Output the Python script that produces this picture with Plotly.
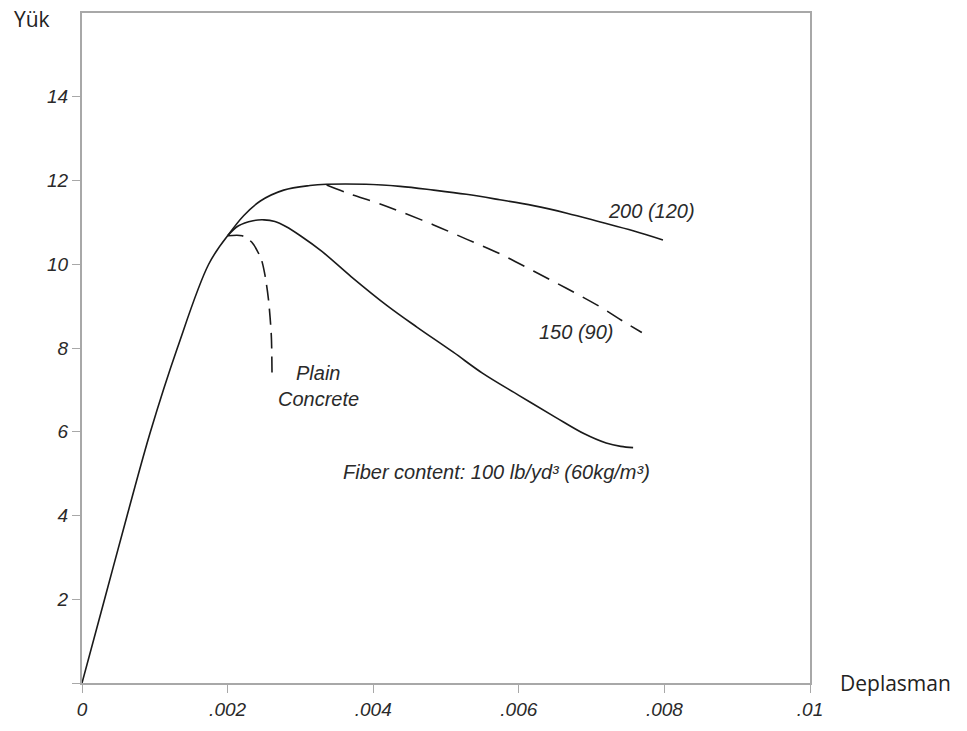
import plotly.graph_objects as go

# Shared rising branch
rise_x = [0, 0.00031, 0.00062, 0.00094, 0.00131, 0.00174, 0.0020]
rise_y = [0, 2.0, 4.0, 6.0, 8.0, 10.0, 10.68]

# 200 (120) fibre curve
f200_x = [0.0020, 0.00222, 0.00245, 0.00277, 0.00313, 0.00336, 0.0039, 0.00437,
          0.00483, 0.00528, 0.00574, 0.0062, 0.00666, 0.00712, 0.00757, 0.00798]
f200_y = [10.68, 11.16, 11.51, 11.77, 11.88, 11.91, 11.91, 11.86,
          11.77, 11.67, 11.54, 11.40, 11.22, 11.01, 10.80, 10.58]

# 150 (90) fibre curve (dashed)
f150_x = [0.00336, 0.00368, 0.00403, 0.00437, 0.00483, 0.00528, 0.00574, 0.0062,
          0.00666, 0.00712, 0.00744, 0.00769]
f150_y = [11.89, 11.68, 11.48, 11.26, 10.94, 10.60, 10.25, 9.84,
          9.42, 8.98, 8.63, 8.37]

# 100 lb/yd3 fibre curve
f100_x = [0.0020, 0.00215, 0.00235, 0.0025, 0.00265, 0.0028, 0.0030, 0.0033,
          0.0037, 0.0042, 0.0046, 0.0051, 0.0055, 0.0060, 0.0065, 0.0069,
          0.0072, 0.0074, 0.00757]
f100_y = [10.68, 10.92, 11.04, 11.06, 11.02, 10.90, 10.68, 10.30,
          9.70, 9.00, 8.50, 7.90, 7.40, 6.87, 6.35, 5.95,
          5.73, 5.65, 5.62]

# Plain concrete (dashed)
plain_x = [0.0020, 0.0022, 0.00233, 0.00246, 0.00251, 0.00256, 0.00260, 0.00261]
plain_y = [10.68, 10.68, 10.53, 10.13, 9.77, 9.18, 8.31, 7.40]

x_tickvals = [0, 0.002, 0.004, 0.006, 0.008, 0.01]
x_ticktext = ["0", ".002", ".004", ".006", ".008", ".01"]
y_tickvals = [0, 2, 4, 6, 8, 10, 12, 14]
y_ticktext = ["", "2", "4", "6", "8", "10", "12", "14"]

LINE = "#1a1a1a"
AX = "#a8a8a8"
TXT = "#2a2a2a"

fig = go.Figure()
fig.add_trace(go.Scatter(x=rise_x, y=rise_y, mode="lines",
                         line=dict(color=LINE, width=1.6, shape="spline", smoothing=1.0)))
fig.add_trace(go.Scatter(x=f200_x, y=f200_y, mode="lines",
                         line=dict(color=LINE, width=1.6, shape="spline", smoothing=1.0)))
fig.add_trace(go.Scatter(x=f150_x, y=f150_y, mode="lines",
                         line=dict(color=LINE, width=1.6, shape="spline", smoothing=1.0,
                                   dash="18px,10px")))
fig.add_trace(go.Scatter(x=f100_x, y=f100_y, mode="lines",
                         line=dict(color=LINE, width=1.6, shape="spline", smoothing=1.0)))
fig.add_trace(go.Scatter(x=plain_x, y=plain_y, mode="lines",
                         line=dict(color=LINE, width=1.6, shape="spline", smoothing=0.8,
                                   dash="16px,8px")))

itfont = dict(family="Liberation Sans, Arial, sans-serif", size=20, color=TXT, style="italic")
tkfont = dict(family="Liberation Sans, Arial, sans-serif", size=19, color=TXT, style="italic")
lbfont = dict(family="Open Sans, Noto Sans, sans-serif", size=21, color="#222")

annotations = [
    dict(x=0.007816, y=11.27, text="200 (120)", showarrow=False, font=itfont,
         xref="x", yref="y"),
    dict(x=0.006786, y=8.375, text="150 (90)", showarrow=False, font=itfont,
         xref="x", yref="y"),
    dict(x=0.003242, y=7.40, text="Plain", showarrow=False, font=itfont,
         xref="x", yref="y"),
    dict(x=0.003255, y=6.79, text="Concrete", showarrow=False, font=itfont,
         xref="x", yref="y"),
    dict(x=0.005696, y=5.03, text="Fiber content: 100 lb/yd³ (60kg/m³)", showarrow=False,
         font=itfont, xref="x", yref="y"),
    dict(x=-0.0687, y=0.991, text="Yük", showarrow=False, xref="paper", yref="paper",
         xanchor="center", yanchor="middle", font=lbfont),
    dict(x=1.118, y=0.0, text="Deplasman", showarrow=False, xref="paper", yref="paper",
         xanchor="center", yanchor="middle", font=lbfont),
]

fig.update_layout(
    width=967, height=731,
    margin=dict(l=82, r=157, t=11, b=44),
    paper_bgcolor="white", plot_bgcolor="white",
    showlegend=False,
    annotations=annotations,
    xaxis=dict(range=[0, 0.01], tickvals=x_tickvals, ticktext=x_ticktext,
               showgrid=False, zeroline=False, showline=True, linecolor=AX, linewidth=2,
               mirror=True, ticks="outside", ticklen=8, tickcolor=AX, tickwidth=1,
               tickfont=tkfont),
    yaxis=dict(range=[0, 16], tickvals=y_tickvals, ticktext=y_ticktext,
               showgrid=False, zeroline=False, showline=True, linecolor=AX, linewidth=2,
               mirror=True, ticks="outside", ticklen=8, tickcolor=AX, tickwidth=1,
               tickfont=tkfont),
)

fig.write_html("out.html")
